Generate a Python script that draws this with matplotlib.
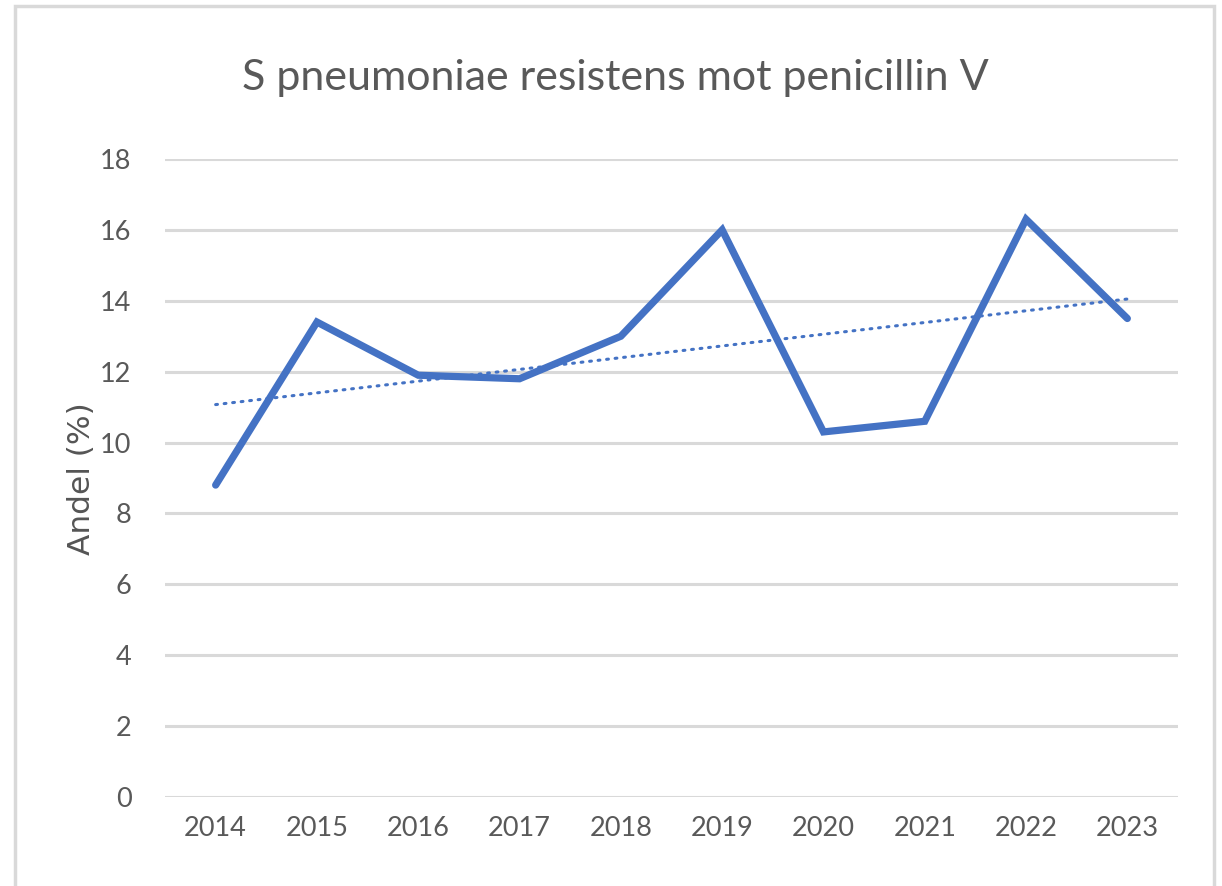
import numpy as np
import matplotlib
matplotlib.use("Agg")
import matplotlib.pyplot as plt
from matplotlib.patches import Rectangle

years = ["2014", "2015", "2016", "2017", "2018", "2019", "2020", "2021", "2022", "2023"]
andel = [8.8, 13.4, 11.9, 11.8, 13.0, 16.0, 10.3, 10.6, 16.3, 13.5]
yticks = [0, 2, 4, 6, 8, 10, 12, 14, 16, 18]

plt.rcParams["font.family"] = ["Lato", "DejaVu Sans"]
txt = "#595959"

fig = plt.figure(figsize=(12.22, 8.86), dpi=100)
ax = fig.add_axes([165 / 1222, 1 - 797 / 886, (1178 - 165) / 1222, (797 - 159) / 886])

x = np.arange(len(years))
ax.plot(x, andel, color="#4472C4", lw=5.2, solid_joinstyle="miter", solid_capstyle="round")

# linear trend line
k, m = np.polyfit(x, andel, 1)
ax.plot(x, k * x + m, color="#4472C4", lw=2.2, linestyle=(0, (0.6, 2.2)), dash_capstyle="round")

ax.set_xlim(-0.5, len(years) - 0.5)
ax.set_ylim(0, 18)
ax.set_yticks(yticks)
ax.set_xticks(x)
ax.set_xticklabels(years)
ax.grid(axis="y", color="#D9D9D9", lw=2.2)
ax.set_axisbelow(True)
for s in ax.spines.values():
    s.set_visible(False)
ax.tick_params(length=0, labelsize=19.5, colors=txt, pad=14)
ax.tick_params(axis="y", pad=24)

fig.text(81 / 1222, 1 - 479 / 886, "Andel (%)", rotation=90, ha="center", va="center",
         fontsize=22.5, color="#555555", family="DejaVu Sans")

fig.text(615 / 1222, 1 - 78 / 886, "S pneumoniae resistens mot penicillin V",
         ha="center", va="center", fontsize=31, color=txt)

fig.patches.append(Rectangle((15 / 1222, -0.01), (1214 - 15) / 1222, 1 - 6 / 886 + 0.01,
                             transform=fig.transFigure, fill=False, edgecolor="#D9D9D9", lw=2.5))

fig.savefig("out.png", dpi=100)
